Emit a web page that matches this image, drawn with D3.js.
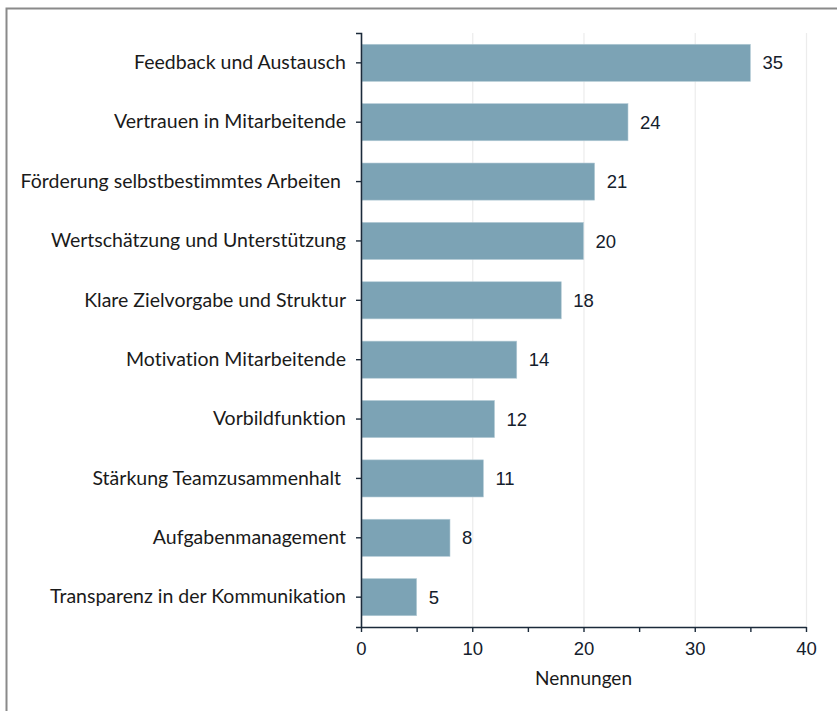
<!DOCTYPE html>
<html>
<head>
<meta charset="utf-8">
<script src="https://cdn.jsdelivr.net/npm/d3@7"></script>
<style>
  body { margin: 0; background: #fff; }
  text { font-variant-ligatures: none; }
</style>
</head>
<body>
<script>
// data
var categories = ["Feedback und Austausch", "Vertrauen in Mitarbeitende", "Förderung selbstbestimmtes Arbeiten ",
  "Wertschätzung und Unterstützung", "Klare Zielvorgabe und Struktur", "Motivation Mitarbeitende",
  "Vorbildfunktion", "Stärkung Teamzusammenhalt ", "Aufgabenmanagement", "Transparenz in der Kommunikation"];
var counts = [35, 24, 21, 20, 18, 14, 12, 11, 8, 5];
var xTicks = [0, 10, 20, 30, 40];
var xMinorTicks = [5, 15, 25, 35];
var xTitle = "Nennungen";

var W = 837, H = 711;
var padLeft = 361, padTop = 33, plotW = 445, plotH = 594;

var svg = d3.select('body').append('svg')
    .attr('width', W)
    .attr('height', H);

// outer frame
svg.append('path')
    .attr('d', 'M6.5,' + H + 'V8.5H' + W)
    .attr('fill', 'none')
    .attr('stroke', '#8a8a8a')
    .attr('stroke-width', 2);

var g = svg.append('g').attr('transform', 'translate(' + padLeft + ',' + padTop + ')');

var x = d3.scaleLinear().domain([0, 40]).range([0, plotW]);
var y = d3.scaleBand().domain(categories).range([0, plotH]).paddingInner(0.375).paddingOuter(0.19);

// gridlines
g.selectAll('.grid').data(xTicks.slice(1))
  .enter().append('line')
    .attr('x1', d => x(d) + 0.5).attr('x2', d => x(d) + 0.5)
    .attr('y1', 0).attr('y2', plotH)
    .attr('stroke', '#ececec')
    .attr('stroke-width', 1.2);

// bars
var data = categories.map((c, i) => ({cat: c, n: counts[i]}));
g.selectAll('.bar').data(data)
  .enter().append('rect')
    .attr('x', x(0) + 1)
    .attr('y', d => y(d.cat))
    .attr('width', d => x(d.n) - x(0) - 1)
    .attr('height', y.bandwidth())
    .attr('fill', '#7ca3b5')
    .attr('stroke', '#b4cbd6')
    .attr('stroke-width', 0.6);

// value labels
g.selectAll('.val').data(data)
  .enter().append('text')
    .attr('x', d => x(d.n) + 12)
    .attr('y', d => y(d.cat) + y.bandwidth() / 2)
    .attr('dy', '0.36em')
    .attr('font-family', 'Liberation Sans, Arial, sans-serif')
    .attr('font-size', 18.5)
    .attr('fill', '#14202c')
    .text(d => d.n);

// y axis
var yAxis = g.append('g')
    .call(d3.axisLeft(y).tickSize(5).tickSizeOuter(5).tickPadding(10));
yAxis.select('.domain').attr('stroke', '#1b2a3a').attr('stroke-width', 1.6);
yAxis.selectAll('.tick line').attr('stroke', '#1b2a3a').attr('stroke-width', 1.4);
yAxis.selectAll('.tick text')
    .attr('font-family', 'Lato, Open Sans, sans-serif')
    .attr('font-size', 19.5)
    .attr('fill', '#1a1a1a')
    .style('white-space', 'pre');

// x axis
var xAxis = g.append('g')
    .attr('transform', 'translate(0,' + plotH + ')')
    .call(d3.axisBottom(x).tickValues(xTicks).tickSize(5).tickSizeOuter(0).tickPadding(10));
xAxis.select('.domain').attr('stroke', '#1b2a3a').attr('stroke-width', 1.6);
xAxis.selectAll('.tick line').attr('stroke', '#1b2a3a').attr('stroke-width', 1.4);
xAxis.selectAll('.tick text')
    .attr('font-family', 'Liberation Sans, Arial, sans-serif')
    .attr('font-size', 18.5)
    .attr('fill', '#14202c');

g.selectAll('.minor').data(xMinorTicks)
  .enter().append('line')
    .attr('x1', d => x(d) + 0.5).attr('x2', d => x(d) + 0.5)
    .attr('y1', plotH).attr('y2', plotH + 5)
    .attr('stroke', '#1b2a3a')
    .attr('stroke-width', 1.4);

// axis title
g.append('text').text(xTitle)
    .attr('x', plotW / 2)
    .attr('y', plotH + 58)
    .attr('text-anchor', 'middle')
    .attr('font-family', 'Lato, Open Sans, sans-serif')
    .attr('font-size', 19)
    .attr('fill', '#1a1a1a');
</script>
</body>
</html>
